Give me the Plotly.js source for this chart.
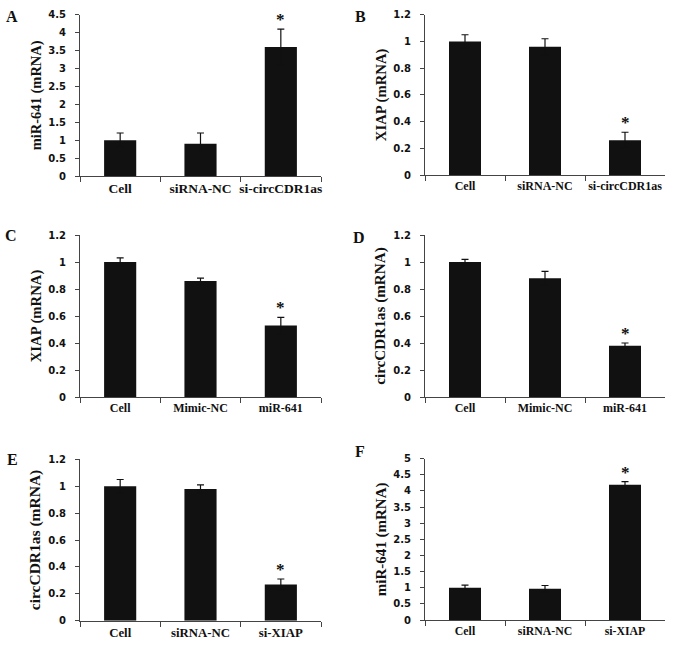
<!DOCTYPE html>
<html>
<head>
<meta charset="utf-8">
<script src="https://cdn.plot.ly/plotly-3.0.1.min.js"></script>
<style>html,body{margin:0;padding:0;background:#fff;}#chart{width:677px;height:650px;}</style>
</head>
<body>
<div id="chart"></div>
<script>
// ---- data ----
const catsA = ["Cell", "siRNA-NC", "si-circCDR1as"];
const valsA = [1.0, 0.9, 3.6];
const errA  = [0.2, 0.3, 0.5];

const catsB = ["Cell", "siRNA-NC", "si-circCDR1as"];
const valsB = [1.0, 0.96, 0.26];
const errB  = [0.05, 0.06, 0.06];

const catsC = ["Cell", "Mimic-NC", "miR-641"];
const valsC = [1.0, 0.86, 0.53];
const errC  = [0.03, 0.02, 0.06];

const catsD = ["Cell", "Mimic-NC", "miR-641"];
const valsD = [1.0, 0.88, 0.38];
const errD  = [0.02, 0.05, 0.02];

const catsE = ["Cell", "siRNA-NC", "si-XIAP"];
const valsE = [1.0, 0.98, 0.27];
const errE  = [0.05, 0.03, 0.04];

const catsF = ["Cell", "siRNA-NC", "si-XIAP"];
const valsF = [1.0, 0.97, 4.19];
const errF  = [0.08, 0.1, 0.1];

const yTitles = ["miR-641 (mRNA)", "XIAP (mRNA)", "XIAP (mRNA)", "circCDR1as (mRNA)", "circCDR1as (mRNA)", "miR-641 (mRNA)"];
const panelLetters = ["A", "B", "C", "D", "E", "F"];
const yMax = [4.5, 1.2, 1.2, 1.2, 1.2, 5];
const yStep = [0.5, 0.2, 0.2, 0.2, 0.2, 0.5];
const starIndex = [2, 2, 2, 2, 2, 2];

// ---- layout geometry / styles ----
const W = 677, H = 650;
const xDomL = [80 / W, 321 / W], xDomR = [425 / W, 665 / W];
const yDoms = [
  [1 - 176 / H, 1 - 14.7 / H],
  [1 - 175 / H, 1 - 14.7 / H],
  [1 - 397 / H, 1 - 235 / H],
  [1 - 397 / H, 1 - 235 / H],
  [1 - 620.7 / H, 1 - 459.3 / H],
  [1 - 620 / H, 1 - 458.7 / H]
];
const letterPos = [[4, 6], [353, 6], [3, 225], [351, 227], [5, 449], [353, 441]];
const xFontSizes = [13.5, 12, 12, 12, 12.8, 11.8];
const titleSizes = [14.5, 14.7, 14.7, 15.2, 15.5, 15];

const panels = [
  [catsA, valsA, errA], [catsB, valsB, errB], [catsC, valsC, errC],
  [catsD, valsD, errD], [catsE, valsE, errE], [catsF, valsF, errF]
];

const traces = [];
const layout = {
  width: W, height: H,
  margin: {l: 0, r: 0, t: 0, b: 0},
  paper_bgcolor: "#ffffff", plot_bgcolor: "rgba(0,0,0,0)",
  showlegend: false,
  bargap: 0.6,
  annotations: []
};

const axisColor = "#444444";
const serif = "Liberation Serif";

panels.forEach((p, i) => {
  const n = i + 1;
  const xa = n === 1 ? "x" : "x" + n;
  const ya = n === 1 ? "y" : "y" + n;
  traces.push({
    type: "bar", x: p[0], y: p[1], xaxis: xa, yaxis: ya,
    marker: {color: "#111111", line: {width: 0}},
    error_y: {type: "data", array: p[2], visible: true, color: "#111111", thickness: 1.2, width: 3.5}
  });
  const left = (i % 2 === 0);
  layout["xaxis" + (n === 1 ? "" : n)] = {
    domain: left ? xDomL : xDomR, anchor: ya,
    type: "category", range: [-0.5, 2.5], fixedrange: true,
    showline: true, linecolor: axisColor, linewidth: 1,
    ticks: "outside", tickson: "boundaries", ticklen: 5, tickcolor: axisColor,
    tickangle: 0,
    showgrid: false, zeroline: false,
    tickfont: {family: serif, size: xFontSizes[i], color: "#111"}, automargin: false,
    tickvals: p[0], ticktext: p[0].map(s => "<b>" + s + "</b>")
  };
  const vals = [], txt = [];
  for (let v = 0; v <= yMax[i] + 1e-9; v += yStep[i]) {
    const r = Math.round(v * 10) / 10;
    vals.push(r); txt.push("<b>" + r + "</b>");
  }
  layout["yaxis" + (n === 1 ? "" : n)] = {
    domain: yDoms[i], anchor: xa,
    range: [0, yMax[i]], fixedrange: true,
    showline: true, linecolor: axisColor, linewidth: 1,
    ticks: "outside", ticklen: 4, tickcolor: axisColor,
    ticklabelstandoff: 7,
    showgrid: false, zeroline: false,
    tickfont: {family: "DejaVu Sans", size: 10, color: "#111"}, automargin: false,
    tickvals: vals, ticktext: txt,
    title: {text: "<b>" + yTitles[i] + "</b>", font: {family: serif, size: titleSizes[i], color: "#111"}, standoff: 3}
  };
  const k = starIndex[i];
  layout.annotations.push({
    xref: xa, yref: ya, x: p[0][k], y: p[1][k] + p[2][k],
    text: "<b>*</b>", showarrow: false, yanchor: "bottom", yshift: -2,
    font: {family: serif, size: 17, color: "#111"}
  });
  layout.annotations.push({
    xref: "paper", yref: "paper", x: letterPos[i][0] / W, y: 1 - letterPos[i][1] / H,
    xanchor: "left", yanchor: "top", showarrow: false,
    text: "<b>" + panelLetters[i] + "</b>",
    font: {family: serif, size: 16, color: "#111"}
  });
});

Plotly.newPlot("chart", traces, layout, {displayModeBar: false, staticPlot: true});
</script>
</body>
</html>
